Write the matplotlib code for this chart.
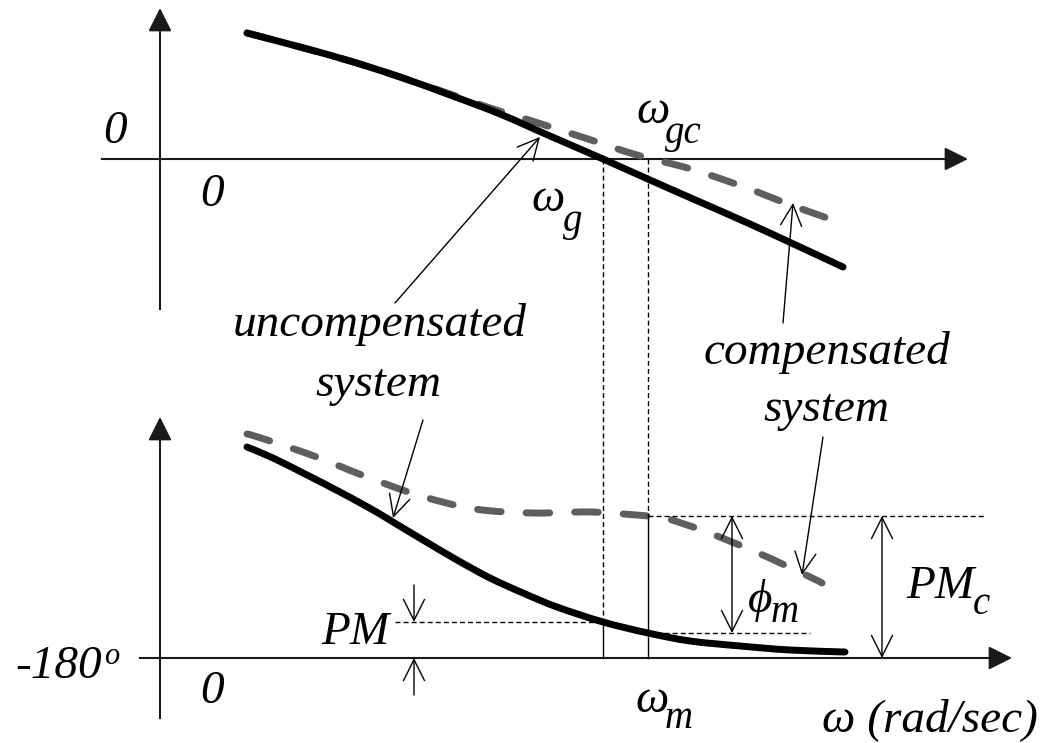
import matplotlib
matplotlib.use("Agg")
import matplotlib.pyplot as plt
from matplotlib.path import Path
from matplotlib.patches import PathPatch
import numpy as np

# Frequency samples (schematic ω units) and responses
w_mag_unc = [0.87, 1.40, 1.90, 2.40, 2.90, 3.40, 3.90, 4.43, 4.90, 5.40, 5.90, 6.40, 6.83]
mag_unc = [25.2, 22.4, 19.6, 16.4, 12.8, 9.0, 4.6, 0.0, -4.2, -8.6, -13.0, -17.6, -21.6]

w_mag_cmp = [0.87, 1.40, 1.90, 2.40, 2.90, 3.30, 3.72, 4.25, 4.77, 5.31, 5.84, 6.36, 6.85]
mag_cmp = [25.2, 22.4, 19.6, 16.4, 13.0, 10.2, 7.6, 4.2, 0.8, -2.0, -5.6, -9.6, -13.0]

w_ph_unc = [0.87, 1.13, 1.47, 1.80, 2.13, 2.33, 2.63, 2.97, 3.30, 3.63, 3.97, 4.43,
            4.88, 5.30, 5.80, 6.30, 6.85]
ph_unc = [-95.6, -100.0, -106.8, -113.6, -120.8, -125.6, -132.8, -140.8, -148.0, -154.0,
          -159.6, -165.6, -170.0, -173.2, -175.2, -176.8, -177.6]

w_ph_cmp = [0.87, 1.01, 1.54, 2.07, 2.61, 3.15, 3.72, 4.31, 4.88, 5.05, 5.44, 5.96, 6.48, 6.62]
ph_cmp = [-90.4, -92.0, -99.2, -107.6, -115.2, -120.4, -122.0, -121.6, -123.2, -124.0,
          -129.2, -137.6, -147.2, -150.0]

w_g = 4.43    # uncompensated gain crossover
w_m = 4.88    # compensated gain crossover (= frequency of maximum lead)

ph_g = np.interp(w_g, w_ph_unc, ph_unc)        # -180 + PM
ph_c = np.interp(w_m, w_ph_cmp, ph_cmp)        # -180 + PMc
ph_um = np.interp(w_m, w_ph_unc, ph_unc)       # uncompensated phase at ω_m

BLACK = "#000000"
AX = "#1a1a1a"
GRAY = "#5e5e5e"
SERIF = ["Liberation Serif", "DejaVu Serif"]
FS = 34

fig = plt.figure(figsize=(10.41, 7.43), dpi=100)
ax_mag = fig.add_axes([0, 0, 1, 1])
ax_ph = fig.add_axes([0, 0, 1, 1])
ax_ph.patch.set_alpha(0)
for ax in (ax_mag, ax_ph):
    ax.set_xlim(-1.6, 8.81)
    ax.axis("off")
ax_mag.set_ylim(-116.8, 31.8)
ax_ph.set_ylim(-214.0, 83.2)


def smooth_curve(ax, xs, ys, **kw):
    """Draw a Catmull-Rom (cubic Bezier) curve through the given points."""
    p = np.column_stack([xs, ys]).astype(float)
    ext = np.vstack([p[0], p, p[-1]])
    verts = [p[0]]
    codes = [Path.MOVETO]
    for i in range(1, len(ext) - 2):
        c1 = ext[i] + (ext[i + 1] - ext[i - 1]) / 6.0
        c2 = ext[i + 1] - (ext[i + 2] - ext[i]) / 6.0
        verts += [c1, c2, ext[i + 1]]
        codes += [Path.CURVE4] * 3
    ax.add_patch(PathPatch(Path(verts, codes), fill=False, **kw))


def txt(ax, x, y, s, size=FS, **kw):
    ax.text(x, y, s, fontsize=size, family=SERIF, style="italic",
            ha="center", va="center", **kw)


def axis_arrow(ax, start, end):
    ax.annotate("", xy=end, xytext=start,
                arrowprops=dict(arrowstyle="-|>,head_length=0.4,head_width=0.2",
                                mutation_scale=36, lw=1.5, color=AX,
                                shrinkA=0, shrinkB=0))


def thin_arrow(ax, start, end, style="->"):
    ax.annotate("", xy=end, xytext=start,
                arrowprops=dict(arrowstyle=style + ",head_length=0.4,head_width=0.2",
                                mutation_scale=38, lw=1.0, color=BLACK,
                                shrinkA=0, shrinkB=0))


solid_kw = dict(edgecolor=BLACK, lw=5, capstyle="round", joinstyle="round", zorder=3)
gray_kw = dict(edgecolor=GRAY, lw=5, linestyle=(0, (3.4, 3.6)), capstyle="round", zorder=2)
dash_kw = dict(color=BLACK, lw=1.0, linestyle=(0, (3.6, 2.2)))

# ---- magnitude plot ----
ax_mag.plot([-0.58, 8.0], [0, 0], color=AX, lw=1.5)
axis_arrow(ax_mag, (7.9, 0), (8.08, 0))
ax_mag.plot([0, 0], [-30.0, 29.0], color=AX, lw=1.5)
axis_arrow(ax_mag, (0, 28.0), (0, 30.2))

smooth_curve(ax_mag, w_mag_cmp, mag_cmp, **gray_kw)
smooth_curve(ax_mag, w_mag_unc, mag_unc, **solid_kw)

txt(ax_mag, -0.45, 5.4, "0")
txt(ax_mag, 0.52, -7.2, "0")
txt(ax_mag, 3.88, -8.2, "ω")
txt(ax_mag, 4.13, -12.6, "g", size=28)
txt(ax_mag, 4.93, 9.4, "ω")
txt(ax_mag, 5.23, 5.0, "gc", size=28)

txt(ax_mag, 2.20, -33.2, "uncompensated")
txt(ax_mag, 2.18, -45.2, "system")
txt(ax_mag, 6.67, -38.8, "compensated")
txt(ax_mag, 6.66, -50.2, "system")

thin_arrow(ax_mag, (2.35, -28.8), (3.80, 4.4))
thin_arrow(ax_mag, (6.23, -32.8), (6.33, -8.8))

# ---- phase plot ----
ax_ph.plot([-0.2, 8.4], [-180, -180], color=AX, lw=1.5)
axis_arrow(ax_ph, (8.3, -180), (8.52, -180))
ax_ph.plot([0, 0], [-204.0, -86.0], color=AX, lw=1.5)
axis_arrow(ax_ph, (0, -88.0), (0, -83.6))

smooth_curve(ax_ph, w_ph_cmp, ph_cmp, **gray_kw)
smooth_curve(ax_ph, w_ph_unc, ph_unc, **solid_kw)

# crossover verticals running from the magnitude axis down to -180°
inv = ax_ph.transData.inverted()
for w, knee in ((w_g, ph_g), (w_m, ph_c)):
    top = inv.transform(ax_mag.transData.transform((w, 0)))[1]
    ax_ph.plot([w, w], [top, knee], **dash_kw)
    ax_ph.plot([w, w], [knee, -180], color=BLACK, lw=1.0)

# margin reference lines
ax_ph.plot([2.35, w_g], [ph_g, ph_g], **dash_kw)
ax_ph.plot([w_m, 6.5], [ph_um, ph_um], **dash_kw)
ax_ph.plot([w_m, 8.25], [ph_c, ph_c], **dash_kw)

# PM arrows
thin_arrow(ax_ph, (2.54, -150.8), (2.54, ph_g))
thin_arrow(ax_ph, (2.54, -194.8), (2.54, -180))
# φm and PMc
thin_arrow(ax_ph, (5.72, ph_um), (5.72, ph_c), style="<->")
thin_arrow(ax_ph, (7.22, -180), (7.22, ph_c), style="<->")

thin_arrow(ax_ph, (2.63, -84.8), (2.33, -124.0))
thin_arrow(ax_ph, (6.63, -91.6), (6.42, -146.8))

txt(ax_ph, -1.01, -183.6, "-180")
txt(ax_ph, -0.48, -179.2, "o", size=22)
txt(ax_ph, 0.52, -193.6, "0")
txt(ax_ph, 1.95, -170.0, "PM")
txt(ax_ph, 4.92, -197.2, "ω")
txt(ax_ph, 5.19, -204.0, "m", size=28)
txt(ax_ph, 6.0, -156.8, "ϕ")
txt(ax_ph, 6.25, -161.6, "m", size=28)
txt(ax_ph, 7.80, -151.6, "PM")
txt(ax_ph, 8.21, -158.4, "c", size=28)
txt(ax_ph, 7.70, -204.8, "ω (rad/sec)")

fig.savefig("out.png", dpi=100)
